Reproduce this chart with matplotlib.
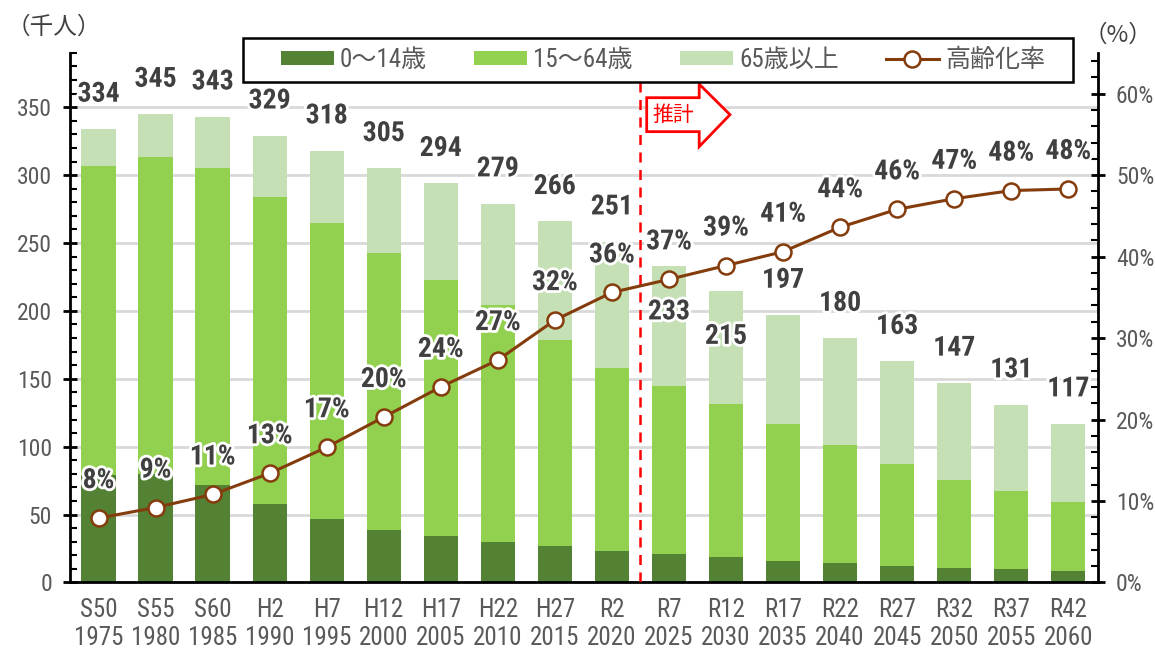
import matplotlib
matplotlib.use("Agg")
import matplotlib.pyplot as plt
import matplotlib.patheffects as pe
from matplotlib.patches import Polygon, Rectangle
from matplotlib import font_manager as fm
import numpy as np

# data
wareki = ["S50", "S55", "S60", "H2", "H7", "H12", "H17", "H22", "H27", "R2",
          "R7", "R12", "R17", "R22", "R27", "R32", "R37", "R42"]
years = ["1975", "1980", "1985", "1990", "1995", "2000", "2005", "2010", "2015", "2020",
         "2025", "2030", "2035", "2040", "2045", "2050", "2055", "2060"]
totals = [334, 345, 343, 329, 318, 305, 294, 279, 266, 251,
          233, 215, 197, 180, 163, 147, 131, 117]
age_0_14 = [79, 80, 72, 58, 47, 39, 34, 30, 26.5, 23,
            21, 18.4, 16, 14, 12.5, 10.8, 9.6, 8.1]
age_15_64 = [228, 233, 233, 226, 218, 204, 189, 174, 152, 135,
             124, 113, 101, 87, 75, 65, 58, 51]
aging_rate = [7.9, 9.2, 10.8, 13.4, 16.6, 20.3, 24.0, 27.3, 32.2, 35.6,
              37.2, 38.9, 40.6, 43.6, 45.8, 47.1, 48.1, 48.3]
age_65 = [t - a - b for t, a, b in zip(totals, age_0_14, age_15_64)]

# pick a narrow font for the numbers
names = {f.name for f in fm.fontManager.ttflist}
num_font = "DejaVu Sans"
for cand in ["Roboto Condensed", "IBM Plex Sans Condensed", "Open Sans Condensed"]:
    if cand in names:
        num_font = cand
        break
fams = [num_font, "Noto Sans CJK JP", "DejaVu Sans"]
plt.rcParams["font.family"] = fams

c_dark = "#548235"
c_mid = "#92D050"
c_light = "#C5E0B4"
c_line = "#843C0C"
c_text = "#404040"
c_tick = "#595959"

fig = plt.figure(figsize=(11.55, 6.53), dpi=100)
ax = fig.add_axes([0.0606, 0.108, 0.89, 0.811])
ax2 = ax.twinx()

x = np.arange(len(totals))
w = 0.6
b1 = ax.bar(x, age_0_14, w, color=c_dark, label="0～14歳", zorder=2)
b2 = ax.bar(x, age_15_64, w, bottom=age_0_14, color=c_mid, label="15～64歳", zorder=2)
bot3 = [a + b for a, b in zip(age_0_14, age_15_64)]
b3 = ax.bar(x, age_65, w, bottom=bot3, color=c_light, label="65歳以上", zorder=2)

ax.set_xlim(-0.5, len(totals) - 0.48)
ax.set_ylim(0, 390)
ax2.set_ylim(0, 65)

ax.set_yticks(range(0, 351, 50))
ax.set_yticks(range(0, 391, 10), minor=True)
ax2.set_yticks(range(0, 61, 10))
ax2.set_yticks(range(0, 66, 2), minor=True)
ax2.set_yticklabels([f"{v}%" for v in range(0, 61, 10)])

ax.grid(axis="y", which="major", color="#D9D9D9", lw=2, zorder=0)
ax.set_axisbelow(True)

for a in (ax, ax2):
    a.spines["top"].set_visible(False)
ax.spines["right"].set_visible(False)
ax.spines["left"].set_linewidth(2)
ax.spines["bottom"].set_linewidth(2)
ax2.spines["left"].set_visible(False)
ax2.spines["bottom"].set_visible(False)
ax2.spines["right"].set_linewidth(2)

ax.tick_params(axis="y", which="major", direction="inout", length=10, width=2,
               labelsize=17, labelcolor=c_tick, pad=8)
ax.tick_params(axis="y", which="minor", direction="in", length=5, width=1.5)
ax2.tick_params(axis="y", which="major", direction="inout", length=10, width=2,
                labelsize=17, labelcolor=c_tick, pad=8)
ax2.tick_params(axis="y", which="minor", direction="in", length=5, width=1.5)

ax.set_xticks(x)
ax.set_xticklabels([f"{a}\n{b}" for a, b in zip(wareki, years)], linespacing=1.2)
ax.tick_params(axis="x", length=0, labelsize=18, labelcolor=c_tick, pad=11)

# aging rate line
ln, = ax2.plot(x, aging_rate, color=c_line, lw=2.2, marker="o", ms=11.5,
               mfc="white", mec=c_line, mew=1.8, label="高齢化率", zorder=5)

glow = [pe.withStroke(linewidth=4, foreground="white")]

# total labels (R7, R12 sit inside the bar)
inside = {"R7", "R12"}
for xi, t, name in zip(x, totals, wareki):
    off = -33 if name in inside else 25
    ax.annotate(f"{t}", (xi, t), xytext=(0, off), textcoords="offset points",
                ha="center", va="center", fontsize=20, fontweight="bold",
                color=c_text, path_effects=glow, zorder=6)

for xi, r in zip(x, aging_rate):
    ax2.annotate(f"{r:.0f}%", (xi, r), xytext=(0, 27), textcoords="offset points",
                 ha="center", va="center", fontsize=20, fontweight="bold",
                 color=c_text, path_effects=glow, zorder=6)

# forecast boundary and arrow
ax.plot([9.5, 9.5], [0, 372], color="red", lw=1.8, ls=(0, (4, 3)), zorder=4)
arrow = Polygon([(9.61, 332), (9.61, 357), (10.53, 357), (10.53, 367),
                 (11.07, 344.5), (10.53, 321), (10.53, 332)],
                closed=True, facecolor="white", edgecolor="red", lw=2, zorder=5)
ax.add_patch(arrow)
ax.text(10.07, 344.5, "推計", color="red", fontsize=15, ha="center", va="center",
        family=["Noto Sans CJK JP"], zorder=6)

# legend: frame drawn separately so the box can be wider than its entries
box = Rectangle((243 / 1155, 571 / 653), 830 / 1155, 44 / 653, transform=fig.transFigure,
                facecolor="white", edgecolor="black", lw=1.8, zorder=8)
fig.patches.append(box)
handles = [b1, b2, b3, ln]
leg = fig.legend(handles, [h.get_label() for h in handles],
                 bbox_to_anchor=(0.574, 0.908), loc="center",
                 ncol=4, fontsize=18, frameon=False,
                 handlelength=2.1, handleheight=0.5,
                 borderpad=0.35, borderaxespad=0, handletextpad=0.25, columnspacing=1.9)
leg.set_zorder(9)
for t in leg.get_texts():
    t.set_color(c_tick)

fig.text(0.006, 0.959, "（千人）", fontsize=17, color="#404040", va="center",
         family=["Noto Sans CJK JP"])
fig.text(0.998, 0.946, "（%）", fontsize=17, color="#404040", va="center", ha="right",
         family=["Noto Sans CJK JP"])

fig.savefig("out.png", dpi=100)
